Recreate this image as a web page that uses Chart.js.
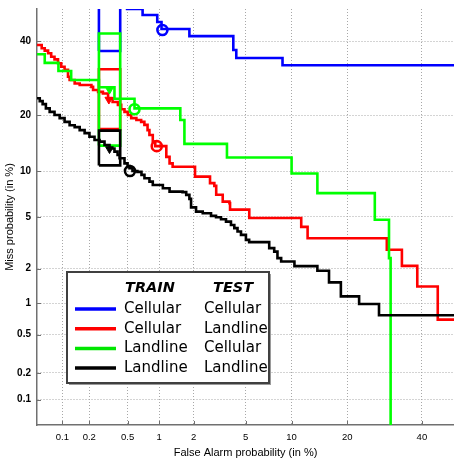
<!doctype html>
<html>
<head>
<meta charset="utf-8">
<title>DET curves</title>
<style>
  html, body { margin: 0; padding: 0; background: #fff; }
  #wrap { width: 454px; height: 462px; position: relative; }
</style>
</head>
<body>
<div id="wrap"><canvas id="chart"></canvas></div>
<script src="https://cdn.jsdelivr.net/npm/chart.js"></script>
<script>
// axis ticks, in %
const gridValues = [0.1, 0.2, 0.5, 1, 2, 5, 10, 20, 40];

// train Cellular / test Cellular
const ccFa   = [0.48, 0.70, 0.96, 1.05, 1.84, 4.08, 4.29, 8.8, 50];
const ccMiss = [50, 48.1, 45.9, 43.7, 41.5, 37.3, 34.9, 32.8, 32.8];

// train Cellular / test Landline
const clFa   = [0.05, 0.057, 0.062, 0.068, 0.074, 0.081, 0.089, 0.097, 0.106, 0.116, 0.121, 0.138, 0.157,
                0.211, 0.220, 0.249, 0.280, 0.317, 0.353, 0.400, 0.432, 0.466, 0.503, 0.543, 0.61, 0.678,
                0.728, 0.78, 0.812, 0.873, 0.92, 1.16, 1.24, 1.32, 2.05, 2.71, 2.93, 3.03, 3.40, 3.82, 3.86,
                5.31, 11.4, 12.4, 29.8, 34.05, 38.6, 44.9, 50];
const clMiss = [38.8, 37.8, 37.1, 36.3, 35.3, 34.5, 33.4, 32.4, 31.5, 29.6, 28.7, 27.8, 27.4,
                26.9, 26.1, 25.6, 25.2, 24.0, 23.1, 22.4, 21.4, 20.8, 20.1, 19.4, 19.0, 18.6,
                17.96, 16.9, 15.96, 14.7, 13.9, 12.1, 11.1, 10.6, 9.25, 8.42, 8.09, 7.08, 6.38, 6.23, 5.63,
                4.92, 4.24, 3.49, 2.84, 2.11, 1.41, 0.70, 0.70];

// train Landline / test Cellular
const lcFa   = [0.05, 0.062, 0.090, 0.126, 0.254, 0.369, 0.585, 1.54, 1.67, 3.66, 10.0, 14.05, 26.6, 30.4, 30.85];
const lcMiss = [36.0, 33.5, 31.2, 28.7, 26.8, 23.9, 21.6, 19.0, 14.3, 12.0, 9.66, 7.26, 4.77, 2.44, 0.04];

// train Landline / test Landline
const llFa   = [0.05, 0.054, 0.0585, 0.064, 0.071, 0.081, 0.093, 0.106, 0.121, 0.138, 0.157, 0.178, 0.201,
                0.228, 0.258, 0.291, 0.328, 0.369, 0.397, 0.416, 0.466, 0.50, 0.522, 0.559, 0.624, 0.683,
                0.729, 0.813, 0.873, 1.08, 1.24, 1.61, 1.73, 1.84, 1.90, 2.09, 2.37, 2.76, 3.02, 3.30, 3.60,
                3.92, 4.15, 4.38, 4.64, 5.03, 5.30, 7.24, 7.80, 8.18, 8.63, 10.4, 14.05, 16.2, 18.6, 22.7, 27.7, 50];
const llMiss = [24.0, 23.3, 22.6, 21.6, 20.8, 20.1, 19.4, 18.6, 17.9, 17.5, 16.9, 16.3, 15.6,
                15.0, 14.7, 14.1, 13.5, 12.96, 12.4, 11.9, 11.1, 10.7, 10.4, 10.0, 9.88, 9.47,
                9.03, 8.60, 8.20, 7.81, 7.43, 7.37, 7.07, 6.66, 5.83, 5.45, 5.31, 5.09, 4.98, 4.82, 4.63,
                4.38, 4.15, 3.92, 3.70, 3.39, 3.26, 2.93, 2.75, 2.44, 2.29, 2.10, 1.92, 1.53, 1.15, 0.98, 0.77, 0.77];

// confidence boxes: false alarm range shared, miss range per system [low, high]
const boxFa   = [0.254, 0.422];
const boxMiss = [[37.0, 60], [17.1, 31.7], [14.0, 42.3], [10.8, 16.8]];

// operating points: open circles (min) and filled triangles (actual)
const minFa    = [1.07, 0.95, 0.585, 0.528];
const minMiss  = [43.4, 13.9, 21.4, 10.0];
const actFa    = [null, 0.323, 0.328, 0.328];
const actMiss  = [null, 23.7, 26.2, 13.4];

const colors      = ['#0000ff', '#ff0000', '#00e600', '#000000'];
const lineColors  = ['#0000ff', '#ff0000', '#00ff00', '#000000'];
const trainLabels = ['Cellular', 'Cellular', 'Landline', 'Landline'];
const testLabels  = ['Cellular', 'Landline', 'Cellular', 'Landline'];

// inverse normal CDF (Acklam)
function probit(p) {
  const a = [-3.969683028665376e+01, 2.209460984245205e+02, -2.759285104469687e+02, 1.383577518672690e+02, -3.066479806614716e+01, 2.506628277459239e+00];
  const b = [-5.447609879822406e+01, 1.615858368580409e+02, -1.556989798598866e+02, 6.680131188771972e+01, -1.328068155288572e+01];
  const c = [-7.784894002430293e-03, -3.223964580411365e-01, -2.400758277161838e+00, -2.549732539343734e+00, 4.374664141464968e+00, 2.938163982698783e+00];
  const d = [7.784695709041462e-03, 3.224671290700398e-01, 2.445134137142996e+00, 3.754408661907416e+00];
  const plow = 0.02425;
  let q, r;
  if (p < plow) {
    q = Math.sqrt(-2 * Math.log(p));
    return (((((c[0]*q+c[1])*q+c[2])*q+c[3])*q+c[4])*q+c[5]) / ((((d[0]*q+d[1])*q+d[2])*q+d[3])*q+1);
  }
  if (p <= 1 - plow) {
    q = p - 0.5; r = q * q;
    return (((((a[0]*r+a[1])*r+a[2])*r+a[3])*r+a[4])*r+a[5])*q / (((((b[0]*r+b[1])*r+b[2])*r+b[3])*r+b[4])*r+1);
  }
  q = Math.sqrt(-2 * Math.log(1 - p));
  return -(((((c[0]*q+c[1])*q+c[2])*q+c[3])*q+c[4])*q+c[5]) / ((((d[0]*q+d[1])*q+d[2])*q+d[3])*q+1);
}

// normal deviate scale for percent values
class ProbitScale extends Chart.Scale {
  determineDataLimits() {
    this.min = this.options.min;
    this.max = this.options.max;
  }
  buildTicks() {
    return gridValues.map(v => ({ value: v }));
  }
  configure() {
    super.configure();
    this._zMin = probit(this.min / 100);
    this._zRange = probit(this.max / 100) - this._zMin;
  }
  getLabelForValue(v) { return String(v); }
  getPixelForValue(v) {
    return this.getPixelForDecimal((probit(v / 100) - this._zMin) / this._zRange);
  }
}
ProbitScale.id = 'probit';
ProbitScale.defaults = {};
Chart.register(ProbitScale);

const pts = (xs, ys) => xs.map((x, i) => ({ x: x, y: ys[i] }));

const curves = [[ccFa, ccMiss], [clFa, clMiss], [lcFa, lcMiss], [llFa, llMiss]];
const datasets = [];
curves.forEach(([fa, miss], i) => {
  const order = 4 - i;
  datasets.push({
    data: pts(fa, miss), showLine: true, stepped: true,
    borderColor: lineColors[i], borderWidth: 2.6, pointRadius: 0, order: order
  });
  const [lo, hi] = boxMiss[i];
  datasets.push({
    data: pts([boxFa[0], boxFa[1], boxFa[1], boxFa[0], boxFa[0]], [lo, lo, hi, hi, lo]),
    showLine: true, borderColor: lineColors[i], borderWidth: 2.6, pointRadius: 0, order: order
  });
  datasets.push({
    data: [{ x: minFa[i], y: minMiss[i] }], pointStyle: 'circle', pointRadius: 5,
    borderWidth: 2.6, borderColor: lineColors[i], backgroundColor: 'rgba(0,0,0,0)', order: order
  });
  if (actFa[i] !== null) {
    datasets.push({
      data: [{ x: actFa[i], y: actMiss[i] }], pointStyle: 'triangle', rotation: 180, pointRadius: 4.5,
      borderWidth: 1, borderColor: lineColors[i], backgroundColor: lineColors[i], order: order
    });
  }
});

// inward tick marks and the two-column legend
const detDecor = {
  id: 'detDecor',
  afterDraw(chart) {
    const { ctx, chartArea: a, scales: { x, y } } = chart;
    ctx.save();
    ctx.strokeStyle = '#707070';
    ctx.lineWidth = 1;
    ctx.beginPath();
    gridValues.forEach(v => {
      const px = Math.round(x.getPixelForValue(v)) + 0.5;
      ctx.moveTo(px, a.bottom); ctx.lineTo(px, a.bottom - 4);
      const py = Math.round(y.getPixelForValue(v)) + 0.5;
      ctx.moveTo(a.left, py); ctx.lineTo(a.left + 4, py);
    });
    ctx.stroke();

    const bx = 67, by = 272, bw = 202, bh = 111;
    ctx.fillStyle = '#9a9a9a';
    ctx.fillRect(bx + 2, by + 2, bw, bh);
    ctx.fillStyle = '#fff';
    ctx.fillRect(bx, by, bw, bh);
    ctx.strokeStyle = '#404040';
    ctx.lineWidth = 2;
    ctx.strokeRect(bx, by, bw, bh);

    ctx.fillStyle = '#000';
    ctx.textBaseline = 'middle';
    ctx.font = 'italic bold 14.5px "DejaVu Sans"';
    ctx.fillText('TRAIN', 125, 288);
    ctx.fillText('TEST', 213, 288);
    ctx.font = '15px "DejaVu Sans"';
    trainLabels.forEach((t, i) => {
      const ry = 309 + i * 19.7;
      ctx.strokeStyle = colors[i];
      ctx.lineWidth = 3.5;
      ctx.beginPath();
      ctx.moveTo(75, ry); ctx.lineTo(116, ry);
      ctx.stroke();
      ctx.fillText(t, 124, ry);
      ctx.fillText(testLabels[i], 204, ry);
    });
    ctx.restore();
  }
};

const axisFont = { family: 'Liberation Sans', size: 11 };
new Chart(document.getElementById('chart'), {
  type: 'scatter',
  data: { datasets: datasets },
  plugins: [detDecor],
  options: {
    responsive: true,
    maintainAspectRatio: false,
    animation: false,
    events: [],
    layout: { autoPadding: false, padding: { top: 9, right: 0, left: 0, bottom: 0 } },
    plugins: { legend: { display: false }, tooltip: { enabled: false } },
    scales: {
      x: {
        type: 'probit', position: 'bottom', min: 0.05, max: 50,
        grid: { color: '#a8a8a8', lineWidth: 1, drawTicks: false },
        border: { display: true, color: '#707070', width: 1.5, dash: [1, 2] },
        ticks: { color: '#000', font: { family: 'Liberation Sans', size: 9.5 }, padding: 7, autoSkip: false, maxRotation: 0 },
        title: { display: true, text: 'False Alarm probability (in %)', color: '#000', font: axisFont, padding: { top: 0, bottom: 2 } },
        afterFit: s => { s.height = 37; s.paddingLeft = 0; s.paddingRight = 0; }
      },
      y: {
        type: 'probit', position: 'left', min: 0.05, max: 50,
        grid: { color: '#a8a8a8', lineWidth: 1, drawTicks: false },
        border: { display: true, color: '#707070', width: 1.5, dash: [1, 2] },
        ticks: { color: '#000', font: { family: 'Liberation Sans', size: 10, weight: 'bold' }, padding: 6, autoSkip: false },
        title: { display: true, text: 'Miss probability (in %)', color: '#000', font: axisFont, padding: { top: 3, bottom: 0 } },
        afterFit: s => { s.width = 37; s.paddingTop = 0; s.paddingBottom = 0; }
      }
    }
  }
});
</script>
</body>
</html>
